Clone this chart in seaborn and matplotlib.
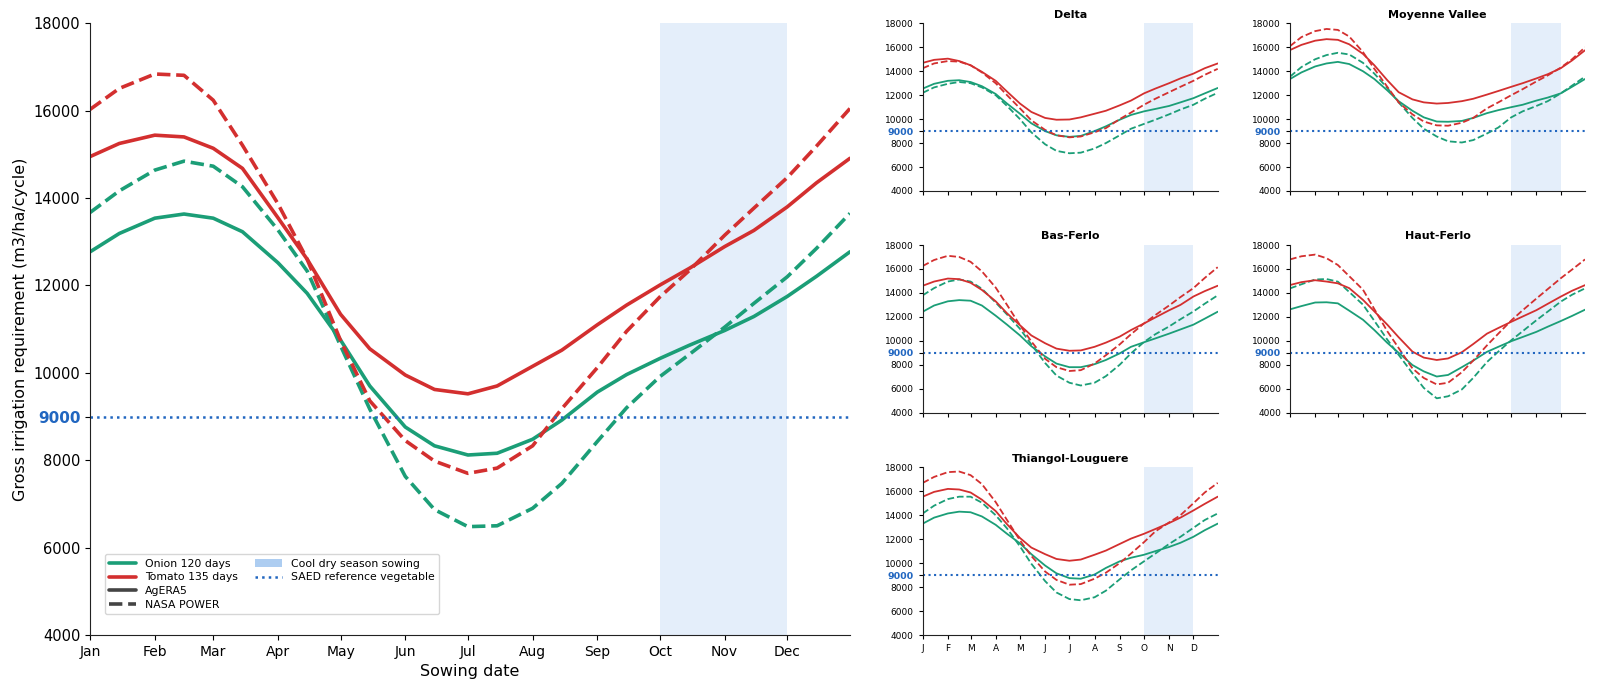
import matplotlib
matplotlib.use("Agg")
import matplotlib.pyplot as plt
from matplotlib.lines import Line2D
from matplotlib.patches import Patch
import seaborn as sns
import pandas as pd

# sowing day of year, sampled twice a month
days = [1, 15, 32, 46, 60, 74, 91, 105, 121, 135, 152, 166, 182, 196, 213, 227, 244, 258, 274, 288, 305, 319, 335, 349, 365]

month_days = [1, 32, 60, 91, 121, 152, 182, 213, 244, 274, 305, 335]
month_labels = ["Jan", "Feb", "Mar", "Apr", "May", "Jun", "Jul", "Aug", "Sep", "Oct", "Nov", "Dec"]
month_letters = ["J", "F", "M", "A", "M", "J", "J", "A", "S", "O", "N", "D"]

# whole valley
onion_agera = [12770, 13190, 13540, 13635, 13540, 13230, 12520, 11820, 10750, 9700, 8760, 8330, 8120, 8160, 8480, 8920, 9560, 9960, 10330, 10630, 10970, 11290, 11750, 12210, 12770]
onion_nasa = [13670, 14165, 14640, 14845, 14730, 14260, 13270, 12330, 10620, 9170, 7630, 6870, 6480, 6500, 6900, 7470, 8430, 9200, 9915, 10420, 11046, 11590, 12200, 12850, 13650]
tomato_agera = [14950, 15250, 15440, 15400, 15140, 14680, 13550, 12600, 11340, 10550, 9950, 9620, 9520, 9700, 10150, 10520, 11100, 11550, 12010, 12390, 12890, 13260, 13800, 14350, 14910]
tomato_nasa = [16030, 16510, 16840, 16810, 16240, 15210, 13870, 12600, 10740, 9360, 8450, 7980, 7700, 7820, 8330, 9180, 10120, 10950, 11740, 12340, 13150, 13770, 14470, 15190, 16050]

# zones
delta_onion_agera = [12550, 12950, 13200, 13250, 13100, 12750, 12100, 11300, 10450, 9650, 9000, 8650, 8520, 8600, 9000, 9400, 9950, 10350, 10650, 10850, 11100, 11400, 11750, 12150, 12600]
delta_onion_nasa = [12200, 12650, 12950, 13100, 13000, 12650, 12000, 11100, 10000, 8900, 7900, 7350, 7150, 7200, 7550, 8000, 8650, 9200, 9600, 9950, 10400, 10800, 11200, 11700, 12200]
delta_tomato_agera = [14700, 14950, 15050, 14850, 14500, 13950, 13200, 12300, 11300, 10600, 10100, 9950, 9970, 10150, 10450, 10700, 11150, 11550, 12150, 12550, 13000, 13400, 13800, 14250, 14650]
delta_tomato_nasa = [14250, 14650, 14850, 14800, 14500, 13900, 13000, 12000, 10900, 9900, 9100, 8650, 8480, 8550, 8900, 9250, 10000, 10550, 11200, 11700, 12250, 12700, 13200, 13700, 14200]

mv_onion_agera = [13350, 13900, 14400, 14650, 14780, 14600, 14000, 13350, 12400, 11500, 10700, 10150, 9800, 9780, 9850, 10100, 10500, 10750, 11000, 11200, 11550, 11800, 12150, 12700, 13350]
mv_onion_nasa = [13550, 14350, 15000, 15350, 15540, 15400, 14700, 13800, 12600, 11400, 10100, 9200, 8550, 8150, 8050, 8250, 8800, 9300, 10150, 10650, 11100, 11500, 12150, 12800, 13550]
mv_tomato_agera = [15770, 16200, 16550, 16680, 16620, 16250, 15450, 14500, 13250, 12250, 11650, 11400, 11300, 11350, 11500, 11700, 12050, 12350, 12700, 13000, 13400, 13750, 14250, 14900, 15750]
mv_tomato_nasa = [16100, 16850, 17350, 17530, 17450, 16900, 15600, 14200, 12700, 11400, 10400, 9800, 9480, 9450, 9700, 10100, 10900, 11400, 12000, 12500, 13150, 13650, 14300, 15000, 16000]

bf_onion_agera = [12430, 12950, 13300, 13400, 13350, 12950, 12100, 11350, 10450, 9550, 8700, 8100, 7800, 7800, 8050, 8400, 8950, 9500, 9880, 10200, 10600, 10950, 11350, 11850, 12430]
bf_onion_nasa = [13800, 14400, 14950, 15120, 14950, 14350, 13200, 12200, 11000, 9700, 8150, 7100, 6500, 6270, 6500, 7050, 8000, 8950, 9900, 10550, 11200, 11800, 12450, 13100, 13800]
bf_tomato_agera = [14600, 14950, 15200, 15150, 14850, 14250, 13300, 12300, 11300, 10450, 9800, 9350, 9170, 9200, 9500, 9850, 10350, 10900, 11450, 11950, 12550, 13000, 13700, 14150, 14600]
bf_tomato_nasa = [16250, 16750, 17100, 17000, 16600, 15800, 14450, 13000, 11300, 9950, 8500, 7800, 7480, 7550, 8100, 8800, 9700, 10550, 11450, 12150, 12950, 13650, 14400, 15250, 16150]

hf_onion_agera = [12630, 12900, 13200, 13220, 13130, 12520, 11760, 10900, 9830, 9000, 7980, 7450, 7020, 7150, 7800, 8350, 9080, 9500, 9970, 10320, 10750, 11180, 11650, 12080, 12600]
hf_onion_nasa = [14380, 14720, 15120, 15160, 14940, 14080, 13020, 11670, 10100, 8830, 7290, 6070, 5200, 5370, 5940, 6900, 8230, 9100, 10050, 10800, 11720, 12440, 13270, 13850, 14380]
hf_tomato_agera = [14660, 14900, 15060, 14950, 14800, 14400, 13420, 12460, 11350, 10300, 9100, 8600, 8400, 8530, 9050, 9730, 10600, 11070, 11590, 12030, 12560, 13090, 13690, 14180, 14650]
hf_tomato_nasa = [16800, 17060, 17200, 16900, 16330, 15400, 14270, 12650, 10800, 9400, 7700, 6900, 6360, 6500, 7380, 8350, 9620, 10600, 11700, 12550, 13530, 14320, 15220, 15950, 16800]

tl_onion_agera = [13300, 13800, 14150, 14300, 14250, 13900, 13200, 12450, 11650, 10750, 9800, 9150, 8750, 8700, 9050, 9600, 10150, 10450, 10700, 11000, 11350, 11700, 12200, 12750, 13300]
tl_onion_nasa = [14150, 14800, 15350, 15550, 15550, 15050, 14000, 12900, 11400, 9950, 8500, 7550, 7000, 6900, 7150, 7700, 8650, 9400, 10150, 10800, 11600, 12200, 12950, 13600, 14150]
tl_tomato_agera = [15550, 15950, 16200, 16150, 15900, 15300, 14350, 13250, 12100, 11300, 10750, 10350, 10200, 10300, 10700, 11050, 11600, 12050, 12450, 12850, 13350, 13800, 14400, 14950, 15550]
tl_tomato_nasa = [16700, 17200, 17600, 17650, 17350, 16600, 15100, 13600, 11900, 10600, 9300, 8600, 8200, 8250, 8700, 9200, 10000, 10800, 11750, 12650, 13400, 14000, 15000, 15900, 16700]

saed_ref = 9000
season_start, season_end = 274, 335

GREEN = "#1b9e77"
RED = "#d32f2f"
BLUE = "#2166c0"
SHADE = "#4a90e2"


def make_frame(onion_a, onion_n, tomato_a, tomato_n):
    rows = []
    for crop, source, vals in [("Onion", "AgERA5", onion_a), ("Onion", "NASA POWER", onion_n),
                               ("Tomato", "AgERA5", tomato_a), ("Tomato", "NASA POWER", tomato_n)]:
        for d, v in zip(days, vals):
            rows.append({"day": d, "gir": v, "crop": crop, "source": source})
    return pd.DataFrame(rows)


def draw(ax, df, lw):
    ax.axvspan(season_start, season_end, color=SHADE, alpha=0.15, lw=0)
    sns.lineplot(data=df, x="day", y="gir", hue="crop", style="source",
                 palette={"Onion": GREEN, "Tomato": RED},
                 dashes={"AgERA5": "", "NASA POWER": (3.7, 1.6)},
                 linewidth=lw, legend=False, ax=ax)
    ax.set_xlim(1, 365)
    ax.set_ylim(4000, 18000)


def style_9000(ax, size):
    for lab in ax.get_yticklabels():
        if lab.get_text() == "9000":
            lab.set_color(BLUE)
            lab.set_fontweight("bold")
            lab.set_fontsize(size)


sns.set_style("ticks")
plt.rcParams["font.family"] = ["DejaVu Sans"]
plt.rcParams["text.color"] = "black"
plt.rcParams["axes.labelcolor"] = "black"
plt.rcParams["xtick.color"] = "black"
plt.rcParams["ytick.color"] = "black"
plt.rcParams["axes.edgecolor"] = "#222222"

fig = plt.figure(figsize=(15.97, 6.9), dpi=100)

yticks = [4000, 6000, 8000, 9000, 10000, 12000, 14000, 16000, 18000]

# main panel
ax = fig.add_axes([0.0564, 0.0797, 0.4758, 0.8865])
draw(ax, make_frame(onion_agera, onion_nasa, tomato_agera, tomato_nasa), 2.6)
ax.axhline(saed_ref, color=BLUE, ls=":", lw=1.8)
ax.set_xticks(month_days)
ax.set_xticklabels(month_labels, fontsize=10)
ax.set_yticks(yticks)
ax.set_yticklabels([str(t) for t in yticks], fontsize=10.5)
style_9000(ax, 11)
ax.set_xlabel("Sowing date", fontsize=11.5)
ax.set_ylabel("Gross irrigation requirement (m3/ha/cycle)", fontsize=11.5)
sns.despine(ax=ax)

handles = [
    Line2D([], [], color=GREEN, lw=2.6, label="Onion 120 days"),
    Line2D([], [], color=RED, lw=2.6, label="Tomato 135 days"),
    Line2D([], [], color="#444444", lw=2.6, label="AgERA5"),
    Line2D([], [], color="#444444", lw=2.6, ls=(0, (3.7, 1.6)), label="NASA POWER"),
    Patch(facecolor=SHADE, alpha=0.45, lw=0, label="Cool dry season sowing"),
    Line2D([], [], color=BLUE, lw=1.8, ls=":", label="SAED reference vegetable"),
    Line2D([], [], color="none", label=" "),
    Line2D([], [], color="none", label=" "),
]
ax.legend(handles=handles, ncol=2, fontsize=7.8, loc="lower left",
          bbox_to_anchor=(0.012, 0.025), frameon=True, handlelength=2.5,
          labelspacing=0.35, columnspacing=1.6)

# zone panels
zones = [
    ("Delta", [0.5778, 0.7232, 0.1847, 0.243], delta_onion_agera, delta_onion_nasa, delta_tomato_agera, delta_tomato_nasa, False),
    ("Moyenne Vallee", [0.8078, 0.7232, 0.1847, 0.243], mv_onion_agera, mv_onion_nasa, mv_tomato_agera, mv_tomato_nasa, False),
    ("Bas-Ferlo", [0.5778, 0.4019, 0.1847, 0.243], bf_onion_agera, bf_onion_nasa, bf_tomato_agera, bf_tomato_nasa, False),
    ("Haut-Ferlo", [0.8078, 0.4019, 0.1847, 0.243], hf_onion_agera, hf_onion_nasa, hf_tomato_agera, hf_tomato_nasa, False),
    ("Thiangol-Louguere", [0.5778, 0.0797, 0.1847, 0.243], tl_onion_agera, tl_onion_nasa, tl_tomato_agera, tl_tomato_nasa, True),
]

for name, rect, oa, on, ta, tn, show_x in zones:
    zax = fig.add_axes(rect)
    draw(zax, make_frame(oa, on, ta, tn), 1.3)
    zax.axhline(saed_ref, color=BLUE, ls=":", lw=1.5)
    zax.set_xticks(month_days)
    if show_x:
        zax.set_xticklabels(month_letters, fontsize=6.5)
    else:
        zax.set_xticklabels([])
    zax.set_yticks(yticks)
    zax.set_yticklabels([str(t) for t in yticks], fontsize=6.5)
    style_9000(zax, 6.8)
    zax.tick_params(length=3)
    zax.set_xlabel("")
    zax.set_ylabel("")
    zax.set_title(name, fontsize=8, fontweight="bold", pad=4)
    sns.despine(ax=zax)

fig.savefig("out.png", dpi=100)
plt.close(fig)
